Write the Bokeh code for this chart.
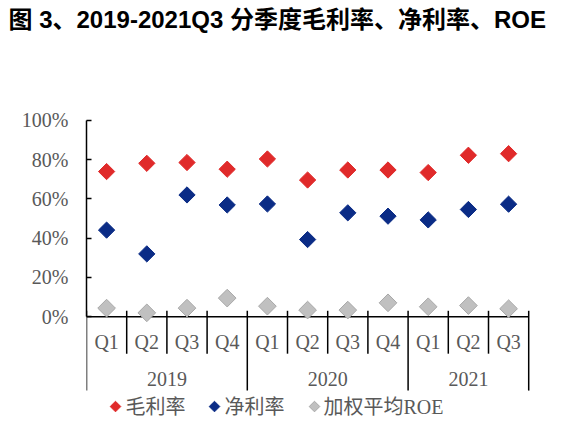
import math
from bokeh.plotting import figure
from bokeh.models import (Range1d, ColumnDataSource, FixedTicker, PrintfTickFormatter, Title)
from bokeh.core.properties import value
from bokeh.embed import file_html
from bokeh.resources import INLINE

# ---- data ----
title_text = "图 3、2019-2021Q3 分季度毛利率、净利率、ROE"
quarters = ["Q1", "Q2", "Q3", "Q4", "Q1", "Q2", "Q3", "Q4", "Q1", "Q2", "Q3"]
years = ["2019", "2019", "2019", "2019", "2020", "2020", "2020", "2020", "2021", "2021", "2021"]
gross_margin = [73.9, 78.1, 78.5, 75.1, 80.3, 69.6, 74.7, 74.7, 73.4, 82.2, 83.0]
net_margin = [44.1, 32.0, 62.0, 56.9, 57.4, 39.3, 52.9, 51.2, 49.3, 54.6, 57.3]
roe = [4.4, 2.0, 4.4, 9.5, 5.4, 3.4, 3.4, 7.1, 5.1, 5.7, 4.1]
series_names = ["毛利率", "净利率", "加权平均ROE"]
series_colors = ["#E02A2A", "#0B2C86", "#C0C0C0"]
y_ticks = [0, 20, 40, 60, 80, 100]

# ---- layout constants ----
W, H = 565, 422
LEFT = 86
FRAME_TOP = 34       # estimated height of the title panel
PX_PER_CAT = 40.2
Y0_PX = 316          # pixel row of 0%
PX_PER_PCT = 1.97
LABEL_COLOR = "#595959"
SERIF = "'Liberation Serif', 'Noto Sans CJK SC'"

n = len(quarters)
xs = [i + 0.5 for i in range(n)]

def py(px_row):
    """pixel row -> data value"""
    return (Y0_PX - px_row) / PX_PER_PCT

def px(px_col):
    return (px_col - LEFT) / PX_PER_CAT

p = figure(width=W, height=H, output_backend="svg", toolbar_location=None,
           x_range=Range1d(0, px(W)), y_range=Range1d(py(H), py(FRAME_TOP)),
           x_axis_location=None, min_border_left=LEFT, min_border_right=0,
           min_border_top=0, min_border_bottom=0)
p.outline_line_color = None
p.grid.visible = False

p.title = Title(text=title_text, align="left", offset=8 - LEFT - 3, standoff=0, padding=3,
                text_font="'Liberation Sans', 'Noto Sans CJK SC'", text_font_size="24px",
                text_font_style="bold", text_color="black")

ax = p.yaxis[0]
ax.bounds = (0, 100)
ax.ticker = FixedTicker(ticks=y_ticks)
ax.formatter = PrintfTickFormatter(format="%d%%")
ax.major_tick_in = 5
ax.major_tick_out = 0
ax.minor_tick_line_color = None
ax.axis_line_color = "black"
ax.axis_line_width = 1.5
ax.major_tick_line_color = "black"
ax.major_tick_line_width = 1.5
ax.major_label_text_font = "Liberation Serif"
ax.major_label_text_font_size = "20px"
ax.major_label_text_color = LABEL_COLOR
ax.major_label_standoff = 18

# ---- category axis (two levels) ----
tick_top = py(310)
q_bottom = py(353)
y_bottom = py(390)

p.segment(x0=[0], y0=[0], x1=[n], y1=[0], line_color="black", line_width=1.5)

year_bounds = [0] + [i for i in range(1, n) if years[i] != years[i - 1]] + [n]
q_bounds = [i for i in range(1, n) if i not in year_bounds]
p.segment(x0=q_bounds, y0=[tick_top] * len(q_bounds), x1=q_bounds,
          y1=[q_bottom] * len(q_bounds), line_color="black", line_width=1.5)
p.segment(x0=year_bounds, y0=[tick_top] * len(year_bounds), x1=year_bounds,
          y1=[y_bottom] * len(year_bounds), line_color="black", line_width=1.5)

p.text(x=xs, y=[py(341.5)] * n, text=quarters, text_font=value("Liberation Serif"),
       text_font_size="20px", text_color=LABEL_COLOR, text_align="center",
       text_baseline="middle")
yr_names = [years[b] for b in year_bounds[:-1]]
yr_x = [(year_bounds[k] + year_bounds[k + 1]) / 2 for k in range(len(yr_names))]
p.text(x=yr_x, y=[py(378)] * len(yr_x), text=yr_names, text_font=value("Liberation Serif"),
       text_font_size="20px", text_color=LABEL_COLOR, text_align="center",
       text_baseline="middle")

# ---- series ----
src = ColumnDataSource(dict(x=xs, g=gross_margin, nm=net_margin, r=roe))
ang = math.pi / 4
p.scatter("x", "r", source=src, marker="square", angle=ang, size=12.5,
          fill_color=series_colors[2], line_color="#A8A8A8", line_width=1)
p.scatter("x", "nm", source=src, marker="square", angle=ang, size=11.5,
          fill_color=series_colors[1], line_color=series_colors[1])
p.scatter("x", "g", source=src, marker="square", angle=ang, size=11.5,
          fill_color=series_colors[0], line_color=series_colors[0])

# ---- legend (drawn row below the axis) ----
leg_glyph_x = [px(115), px(214), px(314)]
leg_text_x = [px(125), px(224), px(323)]
leg_y = py(406)
p.scatter(x=leg_glyph_x, y=[leg_y] * 3, marker="square", angle=ang, size=7.5,
          fill_color=series_colors, line_color=["#E02A2A", "#0B2C86", "#A8A8A8"])
p.text(x=leg_text_x, y=[leg_y] * 3, text=series_names, text_font=value(SERIF),
       text_font_size="20px", text_color=LABEL_COLOR, text_align="left",
       text_baseline="middle")

open("out.html", "w").write(file_html(p, INLINE))
